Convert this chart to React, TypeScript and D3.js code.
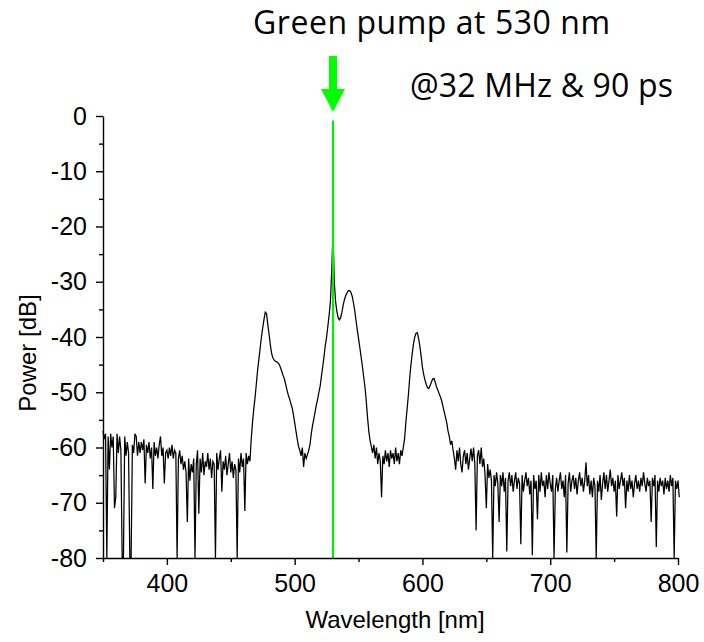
import { useEffect, useRef } from "react";
import * as d3 from "d3";

const WIDTH = 704;
const HEIGHT = 642;

const blueStartNm = 350;
const blueNoiseDb = [
  -57, -58.5, -57.5, -80, -58, -64, -57.5, -60, -58, -71, // 350
  -69, -57.5, -61, -58, -60.5, -80, -80, -58, -61.5, -59, // 360
  -61, -80, -80, -59.5, -61, -57.5, -58, -61.5, -59, -61, // 370
  -59, -60.5, -58.5, -66.5, -59.5, -61, -59, -62, -60, -67.5, // 380
  -59, -61.5, -60, -62, -59.5, -58, -61.5, -60, -66.5, -61, // 390
  -60.5, -62, -60, -61.5, -59.5, -62, -60.5, -61, -80, -62, // 400
  -60.5, -63, -61.5, -64, -62.5, -64.5, -73.5, -62, -66, -63, // 410
  -64.5, -62, -80, -63, -60.5, -72, -62, -64.5, -61, -65, // 420
  -62.5, -63.5, -61, -64, -62, -65.5, -62.5, -63, -80, -61, // 430
  -64, -62, -60.5, -68, -62.5, -64, -61.5, -65, -63, -61, // 440
  -64.5, -62.5, -65.5, -63, -64, -80, -62, -64.5, -61, -63.5, // 450
  -62, -71.5, -61, -63, -61.5, -62.5, // 460
];

const emissionStartNm = 466;
const emissionDb = [
  -58.5, -55.5, -53, -51, -48.5, -46, -44, -42, -40, -38.3, // 466
  -36.8, -35.5, -35.8, -37.8, -39.5, -41.5, -43, -43.8, -44.2, -44.4, // 476
  -44.5, -44.7, -45, -45.6, -46.3, -47, -47.6, -48.6, -49.6, -50.5, // 486
  -51.2, -52, -52.8, -54, -55.5, -57, -58.5, -59.8, -60.5, -61.5, // 496
  -60, -63.5, -61, -62, -61.3, -60.5, -59.5, -57.5, -56, -54.8, // 506
  -53.5, -52.3, -51.2, -50, -48.8, -47, -45.3, -43.5, -41.5, -40, // 516
  -38, -36, -33.5, -28, -21, -30, -33.5, -35.3, -36.5, -36.9, // 526
  -36.5, -35.5, -34.2, -33.2, -32.5, -32, -31.6, -31.6, -31.9, -32.6, // 536
  -33.8, -35.2, -37, -38.7, -40.3, -41.9, -43.6, -45.3, -47.2, -49, // 546
  -51.5, -54.5, -57, -58.7, -59.8, -61, -59.5, -62, -60, -63, // 556
  -61, -62.5, -69, -61.5, -63, -60.5, -62.5, -61, -63.5, -60.5, // 566
  -62, -61, -63, -60, -62.5, -61, -63, -60.5, -61.5, -60, // 576
  -58.5, -55.5, -53, -50.5, -47.5, -45, -43, -41.2, -40, -39.3, // 586
  -39.2, -40.3, -41.7, -43.5, -45.5, -46.8, -47.8, -48.6, -49.2, -49.3, // 596
  -48.8, -48.2, -47.6, -47.5, -48.2, -49, -49.6, -50.2, -50.8, -51.5, // 606
  -52.5, -53.5, -54.5, -55.5, -57, -58, -59.5, -58.8, -60.5, // 616
];

const redStartNm = 625;
const redNoiseDb = [
  -62, -64, -60.5, -62.5, -60, -63, -64.5, -61.5, -60.5, -63, // 625
  -61, -64, -62, -60.2, -62.5, -60, -63, -75, -61.5, -60.5, // 635
  -63, -60, -63.5, -62, -65, -71, -63, -65.5, -64, -66, // 645
  -80, -65, -67, -64.5, -66.5, -73.5, -65, -67, -64.5, -68, // 655
  -65.5, -78.8, -66, -64.5, -67, -65, -68, -66, -64.5, -67.5, // 665
  -65.5, -66.5, -77.5, -65, -68, -66, -64.5, -67, -65.5, -68.5, // 675
  -66, -79.5, -65, -67.5, -66, -73, -65, -68, -64.5, -67, // 685
  -66, -69, -65, -67.5, -64.5, -66.5, -68, -65, -80, -67.5, // 695
  -65.5, -68, -66, -64.5, -67.5, -66, -69, -65, -79, -66.5, // 705
  -64.5, -68, -66, -65, -67.5, -65.5, -68.5, -66, -64.5, -67, // 715
  -65.5, -68, -66, -62.7, -67, -65, -68.5, -66, -69, -65.5, // 725
  -67, -80, -66, -68, -65, -69.5, -66.5, -64.5, -67.5, -65, // 735
  -68, -66, -64, -67, -65.5, -68, -66, -72.5, -65, -67.5, // 745
  -66, -64.5, -67, -65.5, -71, -66, -68, -65, -67.5, -66, // 755
  -69, -66.5, -65, -67.5, -66, -68, -65.5, -67, -64.5, -66.5, // 765
  -68, -65.5, -67, -66, -73.5, -65.5, -67, -65, -78, -66, // 775
  -68, -65.5, -67, -66, -68.5, -65.5, -67.5, -66, -68, -65, // 785
  -67, -65.5, -80, -66, -67.5, -66, -69, // 795
];

const xMajorTicks = [400, 500, 600, 700, 800];
const xMinorTicks = [350, 450, 550, 650, 750];
const yMajorTicks = [0, -10, -20, -30, -40, -50, -60, -70, -80];
const yMinorTicks = [-5, -15, -25, -35, -45, -55, -65, -75];

const pumpNm = 530;
const titleText = "Green pump at 530 nm";
const subtitleText = "@32 MHz & 90 ps";
const xLabel = "Wavelength [nm]";
const yLabel = "Power [dB]";

const AXIS_FONT = "'Liberation Sans', Arial, sans-serif";
const NOTE_FONT = "'Open Sans', 'Noto Sans', sans-serif";
const GREEN = "#00f000";

const SpectrumChart = () => {
  const svgRef = useRef<SVGSVGElement>(null);

  useEffect(() => {
    const svg = d3.select(svgRef.current);
    svg.selectAll("*").remove();

    const x = d3.scaleLinear().domain([350, 800]).range([103, 678]);
    const y = d3.scaleLinear().domain([-80, 0]).range([558, 116]);

    const points: [number, number][] = [
      ...blueNoiseDb.map((v, i) => [blueStartNm + i, v] as [number, number]),
      ...emissionDb.map((v, i) => [emissionStartNm + i, v] as [number, number]),
      ...redNoiseDb.map((v, i) => [redStartNm + i, v] as [number, number]),
    ];

    const line = d3
      .line<[number, number]>()
      .x((d) => x(d[0]))
      .y((d) => y(d[1]));

    svg
      .append("path")
      .datum(points)
      .attr("fill", "none")
      .attr("stroke", "#000")
      .attr("stroke-width", 1.25)
      .attr("d", line);

    // pump marker
    svg
      .append("line")
      .attr("x1", x(pumpNm))
      .attr("x2", x(pumpNm))
      .attr("y1", y(-0.8))
      .attr("y2", y(-80))
      .attr("stroke", GREEN)
      .attr("stroke-width", 2.2);

    const px = x(pumpNm);
    svg
      .append("path")
      .attr(
        "d",
        `M${px - 4},56 L${px + 4},56 L${px + 4},89 L${px + 12},89 L${px},112 L${px - 12},89 L${px - 4},89 Z`
      )
      .attr("fill", "#00ff00");

    const styleAxis = (g: d3.Selection<SVGGElement, unknown, null, undefined>) => {
      g.attr("font-size", 25).attr("font-family", AXIS_FONT);
      g.selectAll("path, line").attr("stroke", "#000").attr("stroke-width", 1.4);
      g.selectAll("text").attr("fill", "#000");
    };

    svg
      .append("g")
      .attr("transform", `translate(0, ${y(-80)})`)
      .call(d3.axisBottom(x).tickValues(xMinorTicks).tickSize(4).tickSizeOuter(0).tickFormat(() => ""))
      .call((g) => g.select(".domain").remove())
      .call(styleAxis);

    svg
      .append("g")
      .attr("transform", `translate(0, ${y(-80)})`)
      .call(
        d3
          .axisBottom(x)
          .tickValues(xMajorTicks)
          .tickSize(7)
          .tickSizeOuter(0)
          .tickPadding(9)
          .tickFormat((d) => String(d))
      )
      .call(styleAxis);

    svg
      .append("g")
      .attr("transform", `translate(${x(350)}, 0)`)
      .call(d3.axisLeft(y).tickValues(yMinorTicks).tickSize(4).tickSizeOuter(0).tickFormat(() => ""))
      .call((g) => g.select(".domain").remove())
      .call(styleAxis);

    svg
      .append("g")
      .attr("transform", `translate(${x(350)}, 0)`)
      .call(
        d3
          .axisLeft(y)
          .tickValues(yMajorTicks)
          .tickSize(7)
          .tickSizeOuter(0)
          .tickPadding(9)
          .tickFormat((d) => String(d))
      )
      .call(styleAxis);

    svg
      .append("text")
      .attr("x", 395)
      .attr("y", 628)
      .attr("text-anchor", "middle")
      .attr("font-family", AXIS_FONT)
      .attr("font-size", 24)
      .text(xLabel);

    svg
      .append("text")
      .attr("transform", "translate(35.5, 353) rotate(-90)")
      .attr("text-anchor", "middle")
      .attr("font-family", AXIS_FONT)
      .attr("font-size", 24)
      .text(yLabel);

    svg
      .append("text")
      .attr("x", 253)
      .attr("y", 34)
      .attr("font-family", NOTE_FONT)
      .attr("font-size", 32)
      .attr("textLength", 357)
      .attr("lengthAdjust", "spacing")
      .text(titleText);

    svg
      .append("text")
      .attr("x", 410)
      .attr("y", 97)
      .attr("font-family", NOTE_FONT)
      .attr("font-size", 32)
      .attr("textLength", 263)
      .attr("lengthAdjust", "spacing")
      .text(subtitleText);
  }, []);

  return (
    <svg
      ref={svgRef}
      width={WIDTH}
      height={HEIGHT}
      style={{ position: "absolute", left: 0, top: 0, background: "#fff" }}
    />
  );
};

export default function App() {
  return <SpectrumChart />;
}
